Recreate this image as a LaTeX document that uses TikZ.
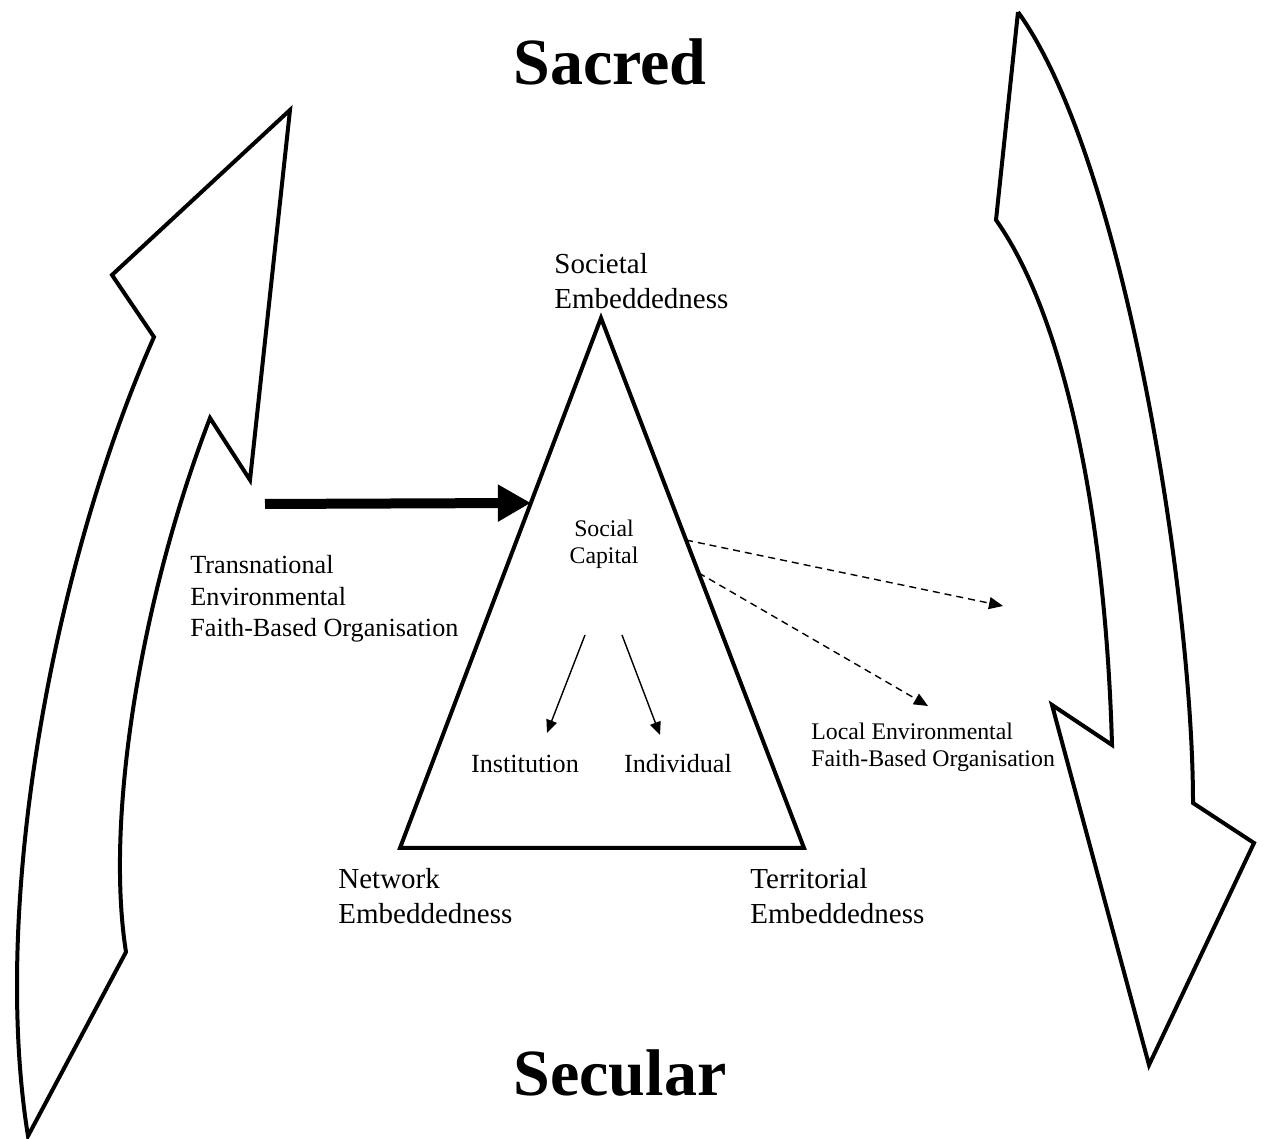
\documentclass[tikz,border=0pt]{standalone}
\usepackage{fontspec}
\setmainfont{Liberation Serif}
\usetikzlibrary{arrows.meta,calc}

\begin{document}
\begin{tikzpicture}[x=50pt,y=50pt,
  outline/.style={line width=2pt, line join=miter},
  lbl/.style={inner sep=0pt, align=left, font=\fontsize{13.1}{15.8}\selectfont},
  cornerlbl/.style={inner sep=0pt, align=left, font=\fontsize{14.5}{17.4}\selectfont},
  smalllbl/.style={inner sep=0pt, align=left, font=\fontsize{11.9}{13.6}\selectfont},
  bigtitle/.style={inner sep=0pt, font=\fontsize{33}{36}\selectfont\bfseries},
  thinarrow/.style={line width=0.7pt, -{Triangle[length=6.5pt,width=5.5pt]}},
  dasharrow/.style={line width=0.7pt, dash pattern=on 3.5pt off 2.5pt, -{Triangle[length=7pt,width=6pt]}}
]

\useasboundingbox (0,0) rectangle (12.63,11.39);

% Triangle corners
\coordinate (t1) at (4.00,2.91);
\coordinate (t2) at (8.04,2.91);
\coordinate (t3) at (6.01,8.21);

% Points on the triangle sides
\coordinate (in)   at ($(t3)!0.349!(t1)$);
\coordinate (out1) at ($(t3)!0.419!(t2)$);
\coordinate (out2) at ($(t3)!0.481!(t2)$);

% Free ends
\coordinate (from) at (2.65,6.35);
\coordinate (to1)  at (10.03,5.33);
\coordinate (to2)  at (9.28,4.33);
\coordinate (s1) at (5.85,5.04);
\coordinate (e1) at (5.47,4.06);
\coordinate (s2) at (6.22,5.04);
\coordinate (e2) at (6.60,4.04);

% Left arrow (upwards)
\draw[outline] (2.90,10.29) -- (1.12,8.64) -- (1.54,8.02)
  .. controls (0.55,5.79) and (-0.10,2.39) .. (0.28,0.03)
  -- (1.26,1.87)
  .. controls (1.05,3.19) and (1.40,5.39) .. (2.10,7.21)
  -- (2.50,6.59) -- cycle;

% Right arrow (downwards)
\draw[outline] (10.18,11.27) -- (9.96,9.19)
  .. controls (10.60,8.29) and (11.05,6.39) .. (11.12,3.94)
  -- (10.52,4.34) -- (11.49,0.74) -- (12.54,2.96) -- (11.93,3.36)
  .. controls (11.93,5.39) and (11.25,9.79) .. (10.18,11.27);

% Triangle
\draw[outline] (t1) -- (t2) -- (t3) -- cycle;

% Arrows
\draw[line width=5pt, -{Triangle[length=16.5pt,width=17.5pt]}] (from) -- (in);
\draw[dasharrow] (out1) -- (to1);
\draw[dasharrow] (out2) -- (to2);
\draw[thinarrow] (s1) -- (e1);
\draw[thinarrow] (s2) -- (e2);

% Titles
\node[bigtitle] (sacred)  at (6.10,10.77) {Sacred};
\node[bigtitle] (secular) at (6.20,0.66) {Secular};

% Corner labels
\node[cornerlbl, anchor=west] (soc) at (5.54,8.58) {Societal\\Embeddedness};
\node[cornerlbl, anchor=west] (net) at (3.38,2.43) {Network\\Embeddedness};
\node[cornerlbl, anchor=west] (ter) at (7.50,2.43) {Territorial\\Embeddedness};

% Inner labels
\node[smalllbl, align=center] (cap) at (6.04,5.95) {Social\\Capital};
\node[lbl] (inst) at (5.25,3.75) {Institution};
\node[lbl] (ind)  at (6.78,3.75) {Individual};

% Organisations
\node[lbl, anchor=west] (trans) at (1.90,5.40) {Transnational\\Environmental\\Faith-Based Organisation};
\node[smalllbl, anchor=west] (local) at (8.11,3.92) {Local Environmental\\Faith-Based Organisation};

\end{tikzpicture}
\end{document}
